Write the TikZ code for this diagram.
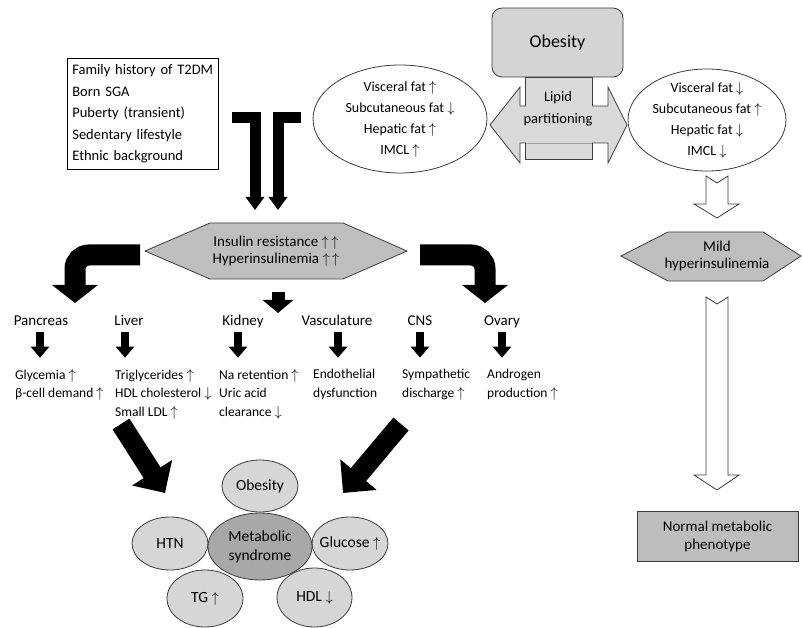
\documentclass[tikz,border=0pt]{standalone}
\usepackage{fontspec}
\setmainfont{Carlito}
\usepackage{tikz}
\usetikzlibrary{arrows.meta, shapes.geometric, calc}

\definecolor{lineg}{HTML}{3C3C3C}
\definecolor{boxg}{HTML}{D4D4D4}
\definecolor{hexg}{HTML}{BEBEBE}
\definecolor{centg}{HTML}{A8A8A8}
\definecolor{satg}{HTML}{D6D6D6}
\definecolor{lipg}{HTML}{D9D9D9}
\definecolor{normg}{HTML}{BDBDBD}

\newcommand{\upa}{\ensuremath{\uparrow}}
\newcommand{\dna}{\ensuremath{\downarrow}}

\tikzset{
  riskbox/.style={draw=black, line width=0.7pt, align=left, anchor=north west,
    text width=141pt, minimum height=111pt, inner xsep=5pt, inner ysep=0pt,
    font=\fontsize{14.5}{21.5}\selectfont},
  obbox/.style={draw=lineg, fill=boxg, line width=0.8pt, rounded corners=10pt,
    minimum width=131pt, minimum height=69pt, font=\fontsize{18}{22}\selectfont},
  partfill/.style={draw=lineg, fill=lipg, line width=0.8pt},
  parttext/.style={align=center, inner sep=0pt, font=\fontsize{14.5}{22}\selectfont},
  fatell/.style={ellipse, draw=lineg, line width=0.8pt, inner sep=-12pt,
    minimum width=174pt, minimum height=108pt, align=center,
    font=\fontsize{14}{21}\selectfont},
  hollow/.style={draw=lineg, fill=white, line width=0.8pt},
  hexshape/.style={draw=lineg, fill=hexg, line width=0.8pt},
  hextext/.style={align=center, inner sep=0pt, font=\fontsize{15}{17.5}\selectfont},
  normbox/.style={draw=lineg, fill=normg, line width=0.8pt, align=center,
    minimum width=161pt, minimum height=50pt, font=\fontsize{15}{18}\selectfont},
  tbar/.style={line width=11pt, black, -{Triangle[width=18pt, length=13pt]}},
  bentarr/.style={line width=21pt, black, rounded corners=14pt,
    -{Triangle[width=45pt, length=18pt]}},
  midarr/.style={line width=13pt, black, -{Triangle[width=30pt, length=13pt]}},
  orgarr/.style={line width=8pt, black, -{Triangle[width=18pt, length=11pt]}},
  diagarr/.style={line width=20pt, black, -{Triangle[width=46pt, length=24pt]}},
  organ/.style={inner sep=0pt, text height=11pt, text depth=4pt,
    font=\fontsize{15}{18}\selectfont},
  effect/.style={anchor=north west, align=left, inner sep=0pt,
    font=\fontsize{13.5}{18.5}\selectfont},
  satell/.style={ellipse, draw=lineg, fill=satg, line width=0.8pt, inner sep=-8pt,
    minimum width=76pt, minimum height=53pt, font=\fontsize{15.5}{19}\selectfont},
  centell/.style={ellipse, draw=lineg, fill=centg, line width=0.8pt, inner sep=-10pt,
    minimum width=104pt, minimum height=67pt, align=center,
    font=\fontsize{15.5}{19}\selectfont}
}

\begin{document}
\begin{tikzpicture}[x=1pt, y=-1pt]
  \useasboundingbox (0,0) rectangle (803,628);

  % risk factors
  \node[riskbox] (risk) at (67,58) {Family history of T2DM\\Born SGA\\Puberty (transient)\\Sedentary lifestyle\\Ethnic background};

  % obesity and lipid partitioning
  \node[obbox] (obes) at (557.5,42.5) {Obesity};
  \draw[partfill] (525,77) rectangle (592,159);
  \draw[partfill] (490,125) -- (520,87) -- (520,106) -- (608,106) -- (608,87) -- (627,125)
    -- (608,163) -- (608,143) -- (520,143) -- (520,163) -- cycle;
  \fill[lipg] (525.5,105.5) rectangle (591.5,143.5);
  \node[parttext] (lipid) at (558,109) {Lipid\\partitioning};

  \node[fatell] (fatL) at (400,119) {Visceral fat \upa\\Subcutaneous fat \dna\\Hepatic fat \upa\\IMCL \upa};
  \node[fatell, minimum width=158pt, minimum height=102pt] (fatR) at (707,120) {Visceral fat \dna\\Subcutaneous fat \upa\\Hepatic fat \dna\\IMCL \dna};

  % right pathway
  \draw[hollow] (706,176) -- (717,183) -- (728,176) -- (728,204) -- (739,204) -- (717,218)
    -- (694,204) -- (706,204) -- cycle;
  \draw[hexshape] (621,256) -- (668,232) -- (763,232) -- (801,256) -- (763,281) -- (668,281) -- cycle;
  \node[hextext] (mild) at (717,256) {Mild\\hyperinsulinemia};
  \draw[hollow] (706,297) -- (717,304) -- (728,297) -- (728,475) -- (739,475) -- (717,490)
    -- (694,475) -- (706,475) -- cycle;
  \node[normbox] (norm) at (717.5,536) {Normal metabolic\\phenotype};

  % insulin resistance
  \coordinate (tA) at (232,118);
  \coordinate (tB) at (301,118);
  \draw[tbar] (tA) -| (255,210);
  \draw[tbar] (tB) -| (278,210);
  \draw[hexshape] (145,251) -- (210,223) -- (343,223) -- (407,251) -- (343,279) -- (210,279) -- cycle;
  \node[hextext] (ir) at (276,251) {Insulin resistance \upa\,\upa\\Hyperinsulinemia \upa\,\upa};

  \draw[bentarr] (140,255) -- (75,255) -- (75,303);
  \draw[bentarr] (420,255) -- (485,255) -- (485,303);
  \draw[midarr] (278,292) -- (278,313);

  % target organs
  \foreach \name/\x/\txt in {pan/41/Pancreas, liv/129/Liver, kid/243/Kidney,
      vas/337/Vasculature, cns/420/CNS, ova/502/Ovary}
    \node[organ] (\name) at (\x,322) {\txt};
  \foreach \name/\dx in {pan/-1, liv/-4, kid/-5, vas/1, cns/0, ova/0}
    \draw[orgarr] ([xshift=\dx pt, yshift=-2pt]\name.south) -- ++(0,26);

  \node[effect] (effpan) at (15,369) {Glycemia \upa\\β-cell demand \upa};
  \node[effect] (effliv) at (115,369) {Triglycerides \upa\\HDL cholesterol \dna\\Small LDL \upa};
  \node[effect] (effkid) at (219,369) {Na retention \upa\\Uric acid\\clearance \dna};
  \node[effect] (effvas) at (313,369) {Endothelial\\dysfunction};
  \node[effect] (effcns) at (402,369) {Sympathetic\\discharge \upa};
  \node[effect] (effova) at (487,369) {Androgen\\production \upa};

  \draw[diagarr] (121,424) -- (165,493);
  \draw[diagarr] (401,424) -- (343,493);

  % metabolic syndrome
  \node[satell, minimum height=52pt] (msob) at (260,486) {Obesity};
  \node[satell] (htn) at (170,543.5) {HTN};
  \node[satell] (glu) at (350,543.5) {Glucose \upa};
  \node[satell, minimum height=57pt] (tg) at (205,598.5) {TG \upa};
  \node[satell, minimum width=75pt, minimum height=59pt] (hdl) at (314.5,597.5) {HDL \dna};
  \node[centell] (ms) at (260,546.5) {Metabolic\\syndrome};
\end{tikzpicture}
\end{document}
